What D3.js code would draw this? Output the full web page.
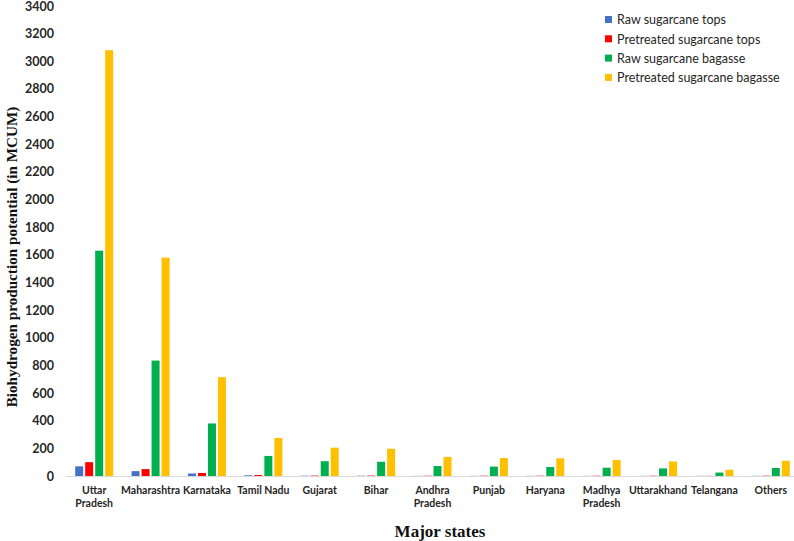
<!DOCTYPE html>
<html><head><meta charset="utf-8">
<script src="https://cdn.jsdelivr.net/npm/d3@7/dist/d3.min.js"></script>
<style>body{margin:0;background:#fff}svg{display:block}</style>
</head><body><svg id="c" width="794" height="541"></svg>
<script>
const states = ["Uttar Pradesh","Maharashtra","Karnataka","Tamil Nadu","Gujarat","Bihar","Andhra Pradesh","Punjab","Haryana","Madhya Pradesh","Uttarakhand","Telangana","Others"];
const seriesNames = ["Raw sugarcane tops","Pretreated sugarcane tops","Raw sugarcane bagasse","Pretreated sugarcane bagasse"];
const rawTops =        [70, 35, 18, 5, 2, 2, 1, 1, 1, 1, 1, 1, 1];
const pretreatedTops = [100, 50, 22, 7, 3, 3, 2, 2, 2, 2, 2, 1, 2];
const rawBagasse =     [1630, 835, 380, 145, 107, 103, 72, 68, 65, 60, 55, 25, 58];
const pretreatedBagasse = [3080, 1580, 715, 275, 205, 197, 138, 130, 128, 115, 105, 45, 110];
const colors = ["#4472C4","#FF0000","#00B050","#FFC000"];
const yTicks = d3.range(0, 3401, 200);

const series = [rawTops, pretreatedTops, rawBagasse, pretreatedBagasse];
const sans = "Lato, 'Open Sans', 'Liberation Sans', sans-serif";
const serif = "'Liberation Serif', 'Times New Roman', serif";
const svg = d3.select("#c");
const x0 = d3.scaleBand().domain(states).range([66, 799]).paddingInner(0).paddingOuter(0);
const x1 = d3.scaleBand().domain(d3.range(4)).range([0, 40]).paddingInner(0.2).paddingOuter(0.1);
const groupOff = (x0.bandwidth() - 40) / 2;
const y = d3.scaleLinear().domain([0, 3400]).range([476, 6]);

// y tick labels
svg.append("g").attr("transform","translate(58,0)")
  .call(d3.axisLeft(y).tickValues(yTicks).tickSize(0).tickPadding(4).tickFormat(d3.format("d")))
  .call(g => g.select(".domain").remove())
  .call(g => g.selectAll("text").attr("font-family", sans)
      .attr("font-weight","bold").attr("font-size","12.5px").attr("fill","#262626"));

// x axis line
svg.append("line").attr("x1",66).attr("x2",794).attr("y1",y(0)+0.5).attr("y2",y(0)+0.5)
  .attr("stroke","#d9d9d9").attr("stroke-width",1);

// bars
const groups = svg.append("g").selectAll("g").data(states).join("g")
  .attr("transform", d => `translate(${x0(d)+groupOff},0)`);
groups.selectAll("rect").data((d,i) => series.map((s,k) => ({k, v: s[i]}))).join("rect")
  .attr("x", d => x1(d.k)).attr("width", x1.bandwidth())
  .attr("y", d => y(d.v)).attr("height", d => y(0) - y(d.v))
  .attr("fill", d => colors[d.k]);

// x labels
const lab = svg.append("g").selectAll("text").data(states).join("text")
  .attr("text-anchor","middle")
  .attr("font-family", sans)
  .attr("font-weight","bold").attr("font-size","10.5px").attr("fill","#262626")
  .attr("transform", d => `translate(${x0(d)+x0.bandwidth()/2},494)`);
lab.each(function(d){
  const parts = (d === "Tamil Nadu") ? [d] : d.split(" ");
  const t = d3.select(this);
  parts.forEach((p,i) => t.append("tspan").attr("x",0).attr("dy", i===0 ? 0 : 13).text(p));
});

// axis titles
svg.append("text").attr("x", 440).attr("y", 537).attr("text-anchor","middle")
  .attr("font-family", serif).attr("font-weight","bold")
  .attr("font-size","17px").attr("fill","#111").text("Major states");
svg.append("text").attr("transform","translate(17,257) rotate(-90)").attr("text-anchor","middle")
  .attr("font-family", serif).attr("font-weight","bold")
  .attr("font-size","15.2px").attr("fill","#111").text("Biohydrogen production potential (in MCUM)");

// legend
const leg = svg.append("g").selectAll("g").data(seriesNames).join("g")
  .attr("transform", (d,i) => `translate(605,${20 + i*19.3})`);
leg.append("rect").attr("x",0).attr("y",-4).attr("width",7).attr("height",7).attr("fill",(d,i)=>colors[i]);
leg.append("text").attr("x",12).attr("y",0).attr("dy","0.35em")
  .attr("font-family", sans).attr("font-size","12.5px").attr("fill","#262626")
  .text(d => d);
</script></body></html>
